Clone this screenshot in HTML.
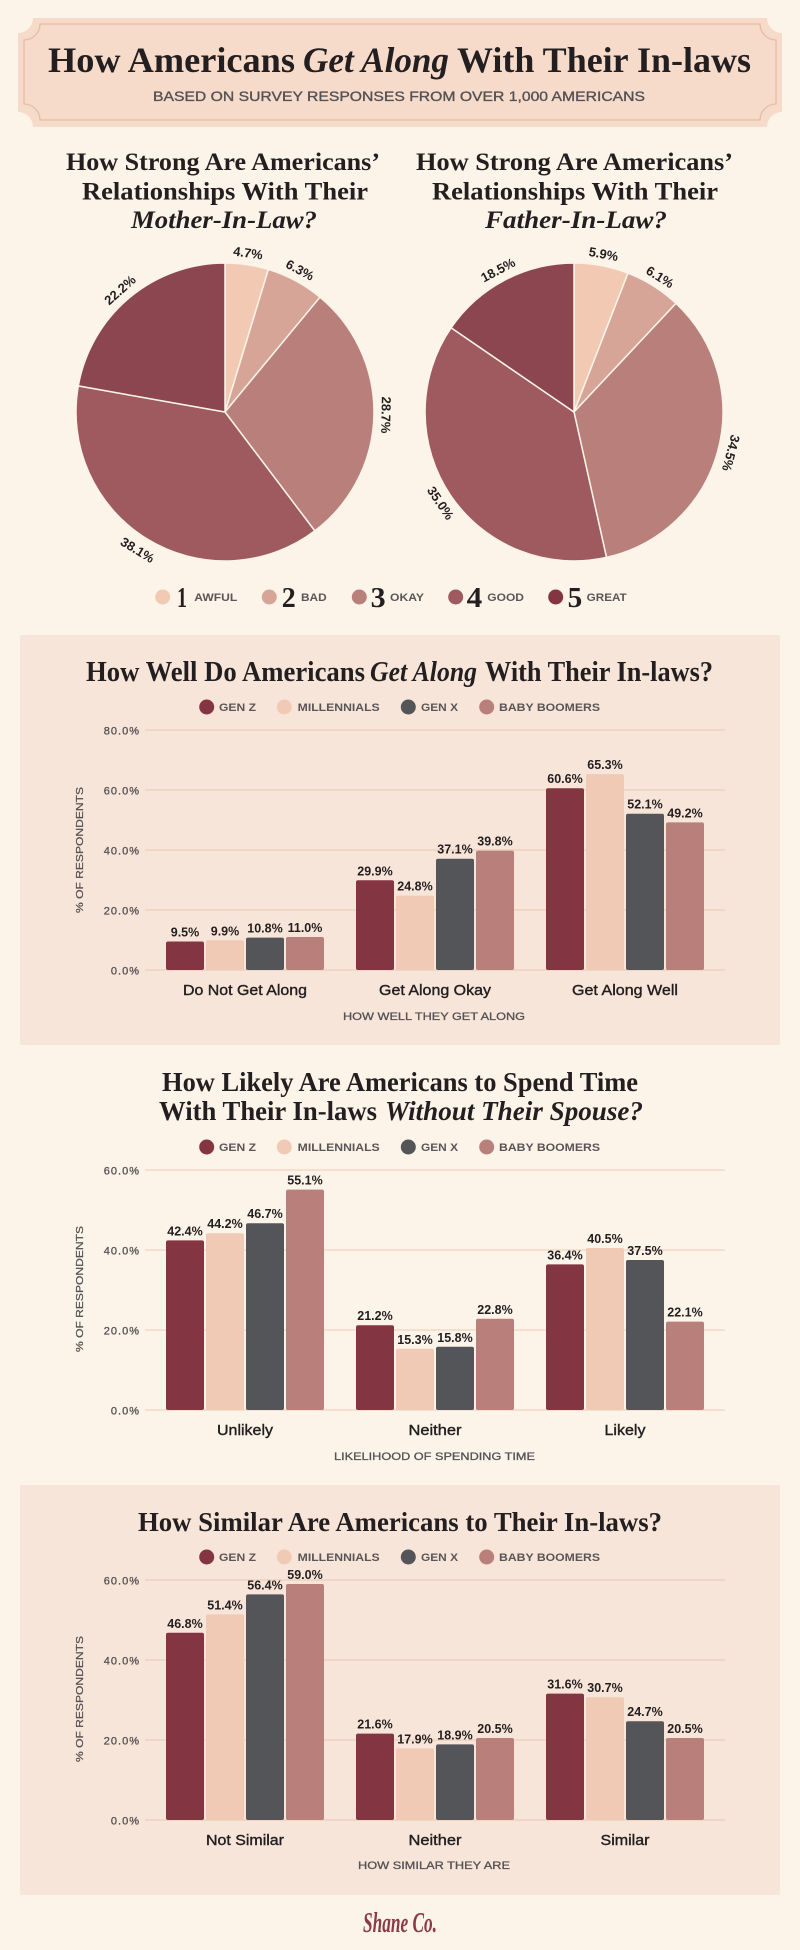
<!DOCTYPE html>
<html>
<head>
<meta charset="utf-8">
<style>
html,body{margin:0;padding:0;background:#fcf3e9;}
svg{display:block;}
.serif{font-family:"Liberation Serif","DejaVu Serif",serif;font-weight:bold;fill:#231f20;}
.it{font-style:italic;}
.sans{font-family:"Liberation Sans","DejaVu Sans",sans-serif;}
.val{font-family:"Liberation Sans",sans-serif;font-weight:bold;font-size:12.5px;fill:#231f20;text-anchor:middle;}
.tick{font-family:"Liberation Sans",sans-serif;font-size:11px;fill:#555254;stroke:#555254;stroke-width:0.3px;text-anchor:end;letter-spacing:1px;}
.leg{font-family:"Liberation Sans",sans-serif;font-size:11px;font-weight:bold;fill:#5a5657;}
.cat{font-family:"Liberation Sans",sans-serif;font-size:15px;fill:#231f20;stroke:#231f20;stroke-width:0.4px;text-anchor:middle;}
.axt{font-family:"Liberation Sans",sans-serif;font-size:11px;fill:#555254;stroke:#555254;stroke-width:0.3px;text-anchor:middle;}
.pl{font-family:"Liberation Sans",sans-serif;font-weight:bold;font-size:13px;fill:#231f20;text-anchor:middle;dominant-baseline:central;}
.yt{font-family:"Liberation Sans",sans-serif;font-size:10.5px;fill:#555254;stroke:#555254;stroke-width:0.25px;text-anchor:middle;dominant-baseline:central;}
</style>
</head>
<body>
<svg width="800" height="1950" viewBox="0 0 800 1950" xmlns="http://www.w3.org/2000/svg">
<rect x="0" y="0" width="800" height="1950" fill="#fcf3e9"/>

<!-- HEADER -->
<path d="M18,33 A15,15 0 0 0 33,18 H767 A15,15 0 0 0 782,33 V112 A15,15 0 0 0 767,127 H33 A15,15 0 0 0 18,112 Z" fill="#f6dbca"/>
<path d="M24,40 A16,16 0 0 0 40,24 H760 A16,16 0 0 0 776,40 V104 A16,16 0 0 0 760,120 H40 A16,16 0 0 0 24,104 Z" fill="none" stroke="#e6bca4" stroke-width="1.3"/>
<text class="serif" x="48" y="72" font-size="36" textLength="247" lengthAdjust="spacingAndGlyphs">How Americans</text>
<text class="serif it" x="303" y="72" font-size="36" textLength="146" lengthAdjust="spacingAndGlyphs">Get Along</text>
<text class="serif" x="457" y="72" font-size="36" textLength="294" lengthAdjust="spacingAndGlyphs">With Their In-laws</text>
<text class="sans" x="153" y="101" font-size="13.5" fill="#555254" stroke="#555254" stroke-width="0.35" textLength="492" lengthAdjust="spacingAndGlyphs">BASED ON SURVEY RESPONSES FROM OVER 1,000 AMERICANS</text>

<!-- PIE TITLES -->
<text class="serif" x="66" y="170" font-size="25" textLength="314" lengthAdjust="spacingAndGlyphs">How Strong Are Americans’</text>
<text class="serif" x="82" y="199.5" font-size="25" textLength="286" lengthAdjust="spacingAndGlyphs">Relationships With Their</text>
<text class="serif it" x="131" y="228" font-size="25" textLength="186" lengthAdjust="spacingAndGlyphs">Mother-In-Law?</text>
<text class="serif" x="416" y="170" font-size="25" textLength="317" lengthAdjust="spacingAndGlyphs">How Strong Are Americans’</text>
<text class="serif" x="432" y="199.5" font-size="25" textLength="286" lengthAdjust="spacingAndGlyphs">Relationships With Their</text>
<text class="serif it" x="485" y="228" font-size="25" textLength="182" lengthAdjust="spacingAndGlyphs">Father-In-Law?</text>

<!-- PIE 1 -->
<g stroke="#fcf3e9" stroke-width="1.5" stroke-linejoin="round">
<path d="M225,412 L225,263 A149,149 0 0 1 268.36,269.45 Z" fill="#f2cab3"/>
<path d="M225,412 L268.36,269.45 A149,149 0 0 1 319.97,297.2 Z" fill="#d6a597"/>
<path d="M225,412 L319.97,297.2 A149,149 0 0 1 314.83,530.87 Z" fill="#b97f7b"/>
<path d="M225,412 L314.83,530.87 A149,149 0 0 1 78.3,385.92 Z" fill="#9e5a5e"/>
<path d="M225,412 L78.3,385.92 A149,149 0 0 1 225,263 Z" fill="#8c4650"/>
</g>
<text class="pl" transform="translate(248,253) rotate(8)">4.7%</text>
<text class="pl" transform="translate(300,270) rotate(28)">6.3%</text>
<text class="pl" transform="translate(386,415) rotate(91)">28.7%</text>
<text class="pl" transform="translate(137.5,550) rotate(31.5)">38.1%</text>
<text class="pl" transform="translate(120,290) rotate(-42)">22.2%</text>

<!-- PIE 2 -->
<g stroke="#fcf3e9" stroke-width="1.5" stroke-linejoin="round">
<path d="M574,412 L574,263 A149,149 0 0 1 627.98,273.12 Z" fill="#f2cab3"/>
<path d="M574,412 L627.98,273.12 A149,149 0 0 1 675.99,303.38 Z" fill="#d6a597"/>
<path d="M574,412 L675.99,303.38 A149,149 0 0 1 606.5,557.41 Z" fill="#b97f7b"/>
<path d="M574,412 L606.5,557.41 A149,149 0 0 1 451.1,327.8 Z" fill="#9e5a5e"/>
<path d="M574,412 L451.1,327.8 A149,149 0 0 1 574,263 Z" fill="#8c4650"/>
</g>
<text class="pl" transform="translate(603.5,254) rotate(10.6)">5.9%</text>
<text class="pl" transform="translate(660,277) rotate(32)">6.1%</text>
<text class="pl" transform="translate(731,453) rotate(105)">34.5%</text>
<text class="pl" transform="translate(440.5,503) rotate(56)">35.0%</text>
<text class="pl" transform="translate(498,270) rotate(-28)">18.5%</text>

<!-- PIE LEGEND -->
<circle cx="162.7" cy="597" r="7.5" fill="#f2cab3"/>
<circle cx="269.3" cy="597" r="7.5" fill="#d6a597"/>
<circle cx="359.3" cy="597" r="7.5" fill="#b97f7b"/>
<circle cx="455.7" cy="597" r="7.5" fill="#9e5a5e"/>
<circle cx="555.7" cy="597" r="7.5" fill="#843542"/>
<text class="serif" x="177" y="607" font-size="29" textLength="10" lengthAdjust="spacingAndGlyphs">1</text>
<text class="serif" x="281.7" y="607" font-size="29" textLength="14" lengthAdjust="spacingAndGlyphs">2</text>
<text class="serif" x="370.7" y="607" font-size="29" textLength="15" lengthAdjust="spacingAndGlyphs">3</text>
<text class="serif" x="466.7" y="607" font-size="29" textLength="15.6" lengthAdjust="spacingAndGlyphs">4</text>
<text class="serif" x="567.7" y="607" font-size="29" textLength="14.6" lengthAdjust="spacingAndGlyphs">5</text>
<text class="leg" x="194.3" y="601" textLength="43" lengthAdjust="spacingAndGlyphs">AWFUL</text>
<text class="leg" x="301" y="601" textLength="25.7" lengthAdjust="spacingAndGlyphs">BAD</text>
<text class="leg" x="390" y="601" textLength="34" lengthAdjust="spacingAndGlyphs">OKAY</text>
<text class="leg" x="487.3" y="601" textLength="36.7" lengthAdjust="spacingAndGlyphs">GOOD</text>
<text class="leg" x="586.7" y="601" textLength="40" lengthAdjust="spacingAndGlyphs">GREAT</text>

<!-- ================= CHART 1 ================= -->
<rect x="20" y="635" width="760" height="410" rx="2" fill="#f8e5d9"/>
<text class="serif" x="86" y="681" font-size="28" textLength="279" lengthAdjust="spacingAndGlyphs">How Well Do Americans</text>
<text class="serif it" x="370" y="681" font-size="28" textLength="107" lengthAdjust="spacingAndGlyphs">Get Along</text>
<text class="serif" x="485" y="681" font-size="28" textLength="228" lengthAdjust="spacingAndGlyphs">With Their In-laws?</text>
<!-- legend -->
<circle cx="206.7" cy="707" r="7.5" fill="#843542"/>
<text class="leg" x="219" y="711" textLength="37" lengthAdjust="spacingAndGlyphs">GEN Z</text>
<circle cx="284.3" cy="707" r="7.5" fill="#f0cab4"/>
<text class="leg" x="297.7" y="711" textLength="82" lengthAdjust="spacingAndGlyphs">MILLENNIALS</text>
<circle cx="408.3" cy="707" r="7.5" fill="#545558"/>
<text class="leg" x="421" y="711" textLength="37" lengthAdjust="spacingAndGlyphs">GEN X</text>
<circle cx="486.7" cy="707" r="7.5" fill="#b97f7a"/>
<text class="leg" x="499" y="711" textLength="101" lengthAdjust="spacingAndGlyphs">BABY BOOMERS</text>
<!-- grid -->
<g stroke="#f0d6c4" stroke-width="2">
<line x1="145" y1="730" x2="725" y2="730"/>
<line x1="145" y1="790" x2="725" y2="790"/>
<line x1="145" y1="850" x2="725" y2="850"/>
<line x1="145" y1="910" x2="725" y2="910"/>
<line x1="145" y1="970" x2="725" y2="970"/>
</g>
<text class="tick" x="140" y="734.5">80.0%</text>
<text class="tick" x="140" y="794.5">60.0%</text>
<text class="tick" x="140" y="854.5">40.0%</text>
<text class="tick" x="140" y="914.5">20.0%</text>
<text class="tick" x="140" y="974.5">0.0%</text>
<text class="yt" transform="translate(80,850) rotate(-90)" textLength="126" lengthAdjust="spacingAndGlyphs">% OF RESPONDENTS</text>
<!-- bars -->
<rect x="166" y="941.5" width="38" height="28.5" rx="2" fill="#843542"/>
<rect x="206" y="940.3" width="38" height="29.7" rx="2" fill="#f0cab4"/>
<rect x="246" y="937.6" width="38" height="32.4" rx="2" fill="#545558"/>
<rect x="286" y="937" width="38" height="33" rx="2" fill="#b97f7a"/>
<rect x="356" y="880.3" width="38" height="89.7" rx="2" fill="#843542"/>
<rect x="396" y="895.6" width="38" height="74.4" rx="2" fill="#f0cab4"/>
<rect x="436" y="858.7" width="38" height="111.3" rx="2" fill="#545558"/>
<rect x="476" y="850.6" width="38" height="119.4" rx="2" fill="#b97f7a"/>
<rect x="546" y="788.2" width="38" height="181.8" rx="2" fill="#843542"/>
<rect x="586" y="774.1" width="38" height="195.9" rx="2" fill="#f0cab4"/>
<rect x="626" y="813.7" width="38" height="156.3" rx="2" fill="#545558"/>
<rect x="666" y="822.4" width="38" height="147.6" rx="2" fill="#b97f7a"/>
<text class="val" x="185" y="936.5">9.5%</text>
<text class="val" x="225" y="935.3">9.9%</text>
<text class="val" x="265" y="932.6">10.8%</text>
<text class="val" x="305" y="932">11.0%</text>
<text class="val" x="375" y="875.3">29.9%</text>
<text class="val" x="415" y="890.6">24.8%</text>
<text class="val" x="455" y="853.7">37.1%</text>
<text class="val" x="495" y="845.6">39.8%</text>
<text class="val" x="565" y="783.2">60.6%</text>
<text class="val" x="605" y="769.1">65.3%</text>
<text class="val" x="645" y="808.7">52.1%</text>
<text class="val" x="685" y="817.4">49.2%</text>
<text class="cat" x="245" y="995" textLength="124" lengthAdjust="spacingAndGlyphs">Do Not Get Along</text>
<text class="cat" x="435" y="995" textLength="112" lengthAdjust="spacingAndGlyphs">Get Along Okay</text>
<text class="cat" x="625" y="995" textLength="106" lengthAdjust="spacingAndGlyphs">Get Along Well</text>
<text class="axt" x="434" y="1020" textLength="182" lengthAdjust="spacingAndGlyphs">HOW WELL THEY GET ALONG</text>

<!-- ================= CHART 2 ================= -->
<text class="serif" x="162" y="1091" font-size="27" textLength="476" lengthAdjust="spacingAndGlyphs">How Likely Are Americans to Spend Time</text>
<text class="serif" x="159" y="1120" font-size="27" textLength="218" lengthAdjust="spacingAndGlyphs">With Their In-laws</text>
<text class="serif it" x="385" y="1120" font-size="27" textLength="258" lengthAdjust="spacingAndGlyphs">Without Their Spouse?</text>
<circle cx="206.7" cy="1147" r="7.5" fill="#843542"/>
<text class="leg" x="219" y="1151" textLength="37" lengthAdjust="spacingAndGlyphs">GEN Z</text>
<circle cx="284.3" cy="1147" r="7.5" fill="#f0cab4"/>
<text class="leg" x="297.7" y="1151" textLength="82" lengthAdjust="spacingAndGlyphs">MILLENNIALS</text>
<circle cx="408.3" cy="1147" r="7.5" fill="#545558"/>
<text class="leg" x="421" y="1151" textLength="37" lengthAdjust="spacingAndGlyphs">GEN X</text>
<circle cx="486.7" cy="1147" r="7.5" fill="#b97f7a"/>
<text class="leg" x="499" y="1151" textLength="101" lengthAdjust="spacingAndGlyphs">BABY BOOMERS</text>
<g stroke="#f5e0d0" stroke-width="2">
<line x1="145" y1="1170" x2="725" y2="1170"/>
<line x1="145" y1="1250" x2="725" y2="1250"/>
<line x1="145" y1="1330" x2="725" y2="1330"/>
<line x1="145" y1="1410" x2="725" y2="1410"/>
</g>
<text class="tick" x="140" y="1174.5">60.0%</text>
<text class="tick" x="140" y="1254.5">40.0%</text>
<text class="tick" x="140" y="1334.5">20.0%</text>
<text class="tick" x="140" y="1414.5">0.0%</text>
<text class="yt" transform="translate(80,1289) rotate(-90)" textLength="126" lengthAdjust="spacingAndGlyphs">% OF RESPONDENTS</text>
<rect x="166" y="1240.4" width="38" height="169.6" rx="2" fill="#843542"/>
<rect x="206" y="1233.2" width="38" height="176.8" rx="2" fill="#f0cab4"/>
<rect x="246" y="1223.2" width="38" height="186.8" rx="2" fill="#545558"/>
<rect x="286" y="1189.6" width="38" height="220.4" rx="2" fill="#b97f7a"/>
<rect x="356" y="1325.2" width="38" height="84.8" rx="2" fill="#843542"/>
<rect x="396" y="1348.8" width="38" height="61.2" rx="2" fill="#f0cab4"/>
<rect x="436" y="1346.8" width="38" height="63.2" rx="2" fill="#545558"/>
<rect x="476" y="1318.8" width="38" height="91.2" rx="2" fill="#b97f7a"/>
<rect x="546" y="1264.4" width="38" height="145.6" rx="2" fill="#843542"/>
<rect x="586" y="1248" width="38" height="162" rx="2" fill="#f0cab4"/>
<rect x="626" y="1260" width="38" height="150" rx="2" fill="#545558"/>
<rect x="666" y="1321.6" width="38" height="88.4" rx="2" fill="#b97f7a"/>
<text class="val" x="185" y="1235.4">42.4%</text>
<text class="val" x="225" y="1228.2">44.2%</text>
<text class="val" x="265" y="1218.2">46.7%</text>
<text class="val" x="305" y="1184.6">55.1%</text>
<text class="val" x="375" y="1320.2">21.2%</text>
<text class="val" x="415" y="1343.8">15.3%</text>
<text class="val" x="455" y="1341.8">15.8%</text>
<text class="val" x="495" y="1313.8">22.8%</text>
<text class="val" x="565" y="1259.4">36.4%</text>
<text class="val" x="605" y="1243">40.5%</text>
<text class="val" x="645" y="1255">37.5%</text>
<text class="val" x="685" y="1316.6">22.1%</text>
<text class="cat" x="245" y="1435" textLength="56" lengthAdjust="spacingAndGlyphs">Unlikely</text>
<text class="cat" x="435" y="1435" textLength="53" lengthAdjust="spacingAndGlyphs">Neither</text>
<text class="cat" x="625" y="1435" textLength="41" lengthAdjust="spacingAndGlyphs">Likely</text>
<text class="axt" x="434.5" y="1460" textLength="201" lengthAdjust="spacingAndGlyphs">LIKELIHOOD OF SPENDING TIME</text>

<!-- ================= CHART 3 ================= -->
<rect x="20" y="1485" width="760" height="410" rx="2" fill="#f8e5d9"/>
<text class="serif" x="138" y="1531" font-size="27" textLength="524" lengthAdjust="spacingAndGlyphs">How Similar Are Americans to Their In-laws?</text>
<circle cx="206.7" cy="1557" r="7.5" fill="#843542"/>
<text class="leg" x="219" y="1561" textLength="37" lengthAdjust="spacingAndGlyphs">GEN Z</text>
<circle cx="284.3" cy="1557" r="7.5" fill="#f0cab4"/>
<text class="leg" x="297.7" y="1561" textLength="82" lengthAdjust="spacingAndGlyphs">MILLENNIALS</text>
<circle cx="408.3" cy="1557" r="7.5" fill="#545558"/>
<text class="leg" x="421" y="1561" textLength="37" lengthAdjust="spacingAndGlyphs">GEN X</text>
<circle cx="486.7" cy="1557" r="7.5" fill="#b97f7a"/>
<text class="leg" x="499" y="1561" textLength="101" lengthAdjust="spacingAndGlyphs">BABY BOOMERS</text>
<g stroke="#f0d6c4" stroke-width="2">
<line x1="145" y1="1580" x2="725" y2="1580"/>
<line x1="145" y1="1660" x2="725" y2="1660"/>
<line x1="145" y1="1740" x2="725" y2="1740"/>
<line x1="145" y1="1820" x2="725" y2="1820"/>
</g>
<text class="tick" x="140" y="1584.5">60.0%</text>
<text class="tick" x="140" y="1664.5">40.0%</text>
<text class="tick" x="140" y="1744.5">20.0%</text>
<text class="tick" x="140" y="1824.5">0.0%</text>
<text class="yt" transform="translate(80,1699) rotate(-90)" textLength="126" lengthAdjust="spacingAndGlyphs">% OF RESPONDENTS</text>
<rect x="166" y="1632.8" width="38" height="187.2" rx="2" fill="#843542"/>
<rect x="206" y="1614.4" width="38" height="205.6" rx="2" fill="#f0cab4"/>
<rect x="246" y="1594.4" width="38" height="225.6" rx="2" fill="#545558"/>
<rect x="286" y="1584" width="38" height="236" rx="2" fill="#b97f7a"/>
<rect x="356" y="1733.6" width="38" height="86.4" rx="2" fill="#843542"/>
<rect x="396" y="1748.4" width="38" height="71.6" rx="2" fill="#f0cab4"/>
<rect x="436" y="1744.4" width="38" height="75.6" rx="2" fill="#545558"/>
<rect x="476" y="1738" width="38" height="82" rx="2" fill="#b97f7a"/>
<rect x="546" y="1693.6" width="38" height="126.4" rx="2" fill="#843542"/>
<rect x="586" y="1697.2" width="38" height="122.8" rx="2" fill="#f0cab4"/>
<rect x="626" y="1721.2" width="38" height="98.8" rx="2" fill="#545558"/>
<rect x="666" y="1738" width="38" height="82" rx="2" fill="#b97f7a"/>
<text class="val" x="185" y="1627.8">46.8%</text>
<text class="val" x="225" y="1609.4">51.4%</text>
<text class="val" x="265" y="1589.4">56.4%</text>
<text class="val" x="305" y="1579">59.0%</text>
<text class="val" x="375" y="1728.6">21.6%</text>
<text class="val" x="415" y="1743.4">17.9%</text>
<text class="val" x="455" y="1739.4">18.9%</text>
<text class="val" x="495" y="1733">20.5%</text>
<text class="val" x="565" y="1688.6">31.6%</text>
<text class="val" x="605" y="1692.2">30.7%</text>
<text class="val" x="645" y="1716.2">24.7%</text>
<text class="val" x="685" y="1733">20.5%</text>
<text class="cat" x="245" y="1845" textLength="78" lengthAdjust="spacingAndGlyphs">Not Similar</text>
<text class="cat" x="435" y="1845" textLength="53" lengthAdjust="spacingAndGlyphs">Neither</text>
<text class="cat" x="625" y="1845" textLength="49" lengthAdjust="spacingAndGlyphs">Similar</text>
<text class="axt" x="434" y="1869" textLength="152" lengthAdjust="spacingAndGlyphs">HOW SIMILAR THEY ARE</text>

<!-- LOGO -->
<text x="400" y="1932" font-family="Liberation Serif, serif" font-style="italic" font-weight="bold" font-size="29" fill="#8b3a47" text-anchor="middle" textLength="74" lengthAdjust="spacingAndGlyphs">Shane Co.</text>
</svg>
</body>
</html>
